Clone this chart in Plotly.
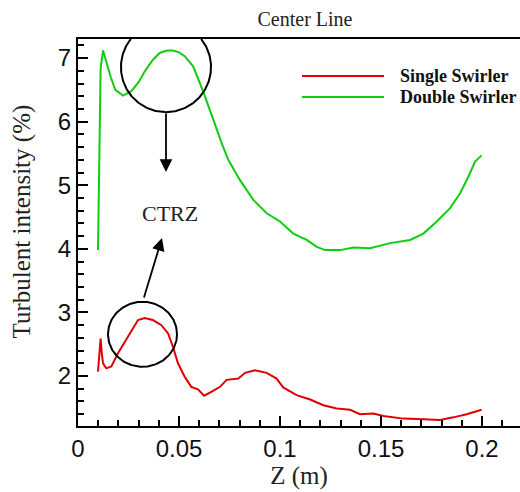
import numpy as np
import plotly.graph_objects as go

# ---- data ----
z_double = [0.0099, 0.0103, 0.0107, 0.0112, 0.0124, 0.0140, 0.0163, 0.0185, 0.0223, 0.0264,
            0.0300, 0.0330, 0.0370, 0.0404, 0.0440, 0.0470, 0.0500, 0.0528, 0.0570, 0.0619,
            0.0650, 0.0687, 0.0715, 0.0744, 0.0802, 0.0868, 0.0934, 0.1000, 0.1066, 0.1132, 0.1182,
            0.1223, 0.1297, 0.1363, 0.1446, 0.1545, 0.1644, 0.1710, 0.1776, 0.1842, 0.1891,
            0.1932, 0.1965, 0.1998]
ti_double = [3.98, 4.90, 5.90, 6.84, 7.12, 6.95, 6.69, 6.50, 6.41, 6.48,
             6.62, 6.79, 6.97, 7.08, 7.12, 7.12, 7.09, 7.03, 6.87, 6.48,
             6.20, 5.90, 5.63, 5.40, 5.08, 4.77, 4.56, 4.43, 4.24, 4.14, 4.03,
             3.98, 3.98, 4.02, 4.01, 4.09, 4.14, 4.24, 4.43, 4.64, 4.87,
             5.13, 5.37, 5.47]

z_single = [0.0099, 0.0106, 0.0112, 0.0118, 0.0124, 0.0140, 0.0165, 0.0198, 0.0248, 0.0297,
            0.0330, 0.0371, 0.0413, 0.0446, 0.0470, 0.0495, 0.0528, 0.0561, 0.0594, 0.0624,
            0.0660, 0.0703, 0.0736, 0.0794, 0.0827, 0.0876, 0.0934, 0.0983, 0.1016, 0.1082,
            0.1149, 0.1215, 0.1281, 0.1347, 0.1396, 0.1462, 0.1512, 0.1611, 0.1710, 0.1792,
            0.1858, 0.1924, 0.1998]
ti_single = [2.07, 2.35, 2.59, 2.35, 2.20, 2.12, 2.15, 2.36, 2.62, 2.88,
             2.91, 2.88, 2.80, 2.67, 2.46, 2.20, 1.99, 1.83, 1.79, 1.69,
             1.75, 1.83, 1.94, 1.96, 2.05, 2.09, 2.05, 1.96, 1.82, 1.70,
             1.63, 1.54, 1.49, 1.47, 1.40, 1.41, 1.37, 1.33, 1.32, 1.31,
             1.35, 1.40, 1.47]

series_names = ["Single Swirler", "Double Swirler"]
series_colors = ["#e00000", "#11cc11"]
x_ticks = [0, 0.05, 0.1, 0.15, 0.2]
x_tick_text = ["0", "0.05", "0.1", "0.15", "0.2"]
y_ticks = [2, 3, 4, 5, 6, 7]
x_range = [0, 442 / 2020]
y_range = [1.214, 7.30]

# annotation circles (centre z, centre value, radius z, radius value)
ctrz_circles = [(0.04356, 6.858, 0.0223, 0.708), (0.03193, 2.657, 0.01708, 0.511)]

TICK_FONT = "Liberation Sans, Arial, sans-serif"
SERIF = "Liberation Serif, Times New Roman, serif"

fig = go.Figure()
fig.add_trace(go.Scatter(x=z_single, y=ti_single, mode="lines", name=series_names[0],
                         line=dict(color=series_colors[0], width=2), showlegend=False))
fig.add_trace(go.Scatter(x=z_double, y=ti_double, mode="lines", name=series_names[1],
                         line=dict(color=series_colors[1], width=2), showlegend=False))

# circles marking CTRZ regions, cut where they leave the top of the frame
for cx, cy, rx, ry in ctrz_circles:
    if cy + ry > y_range[1]:
        t0 = np.arcsin((y_range[1] - cy) / ry)
        t = np.linspace(np.pi - t0, 2 * np.pi + t0, 181)
    else:
        t = np.linspace(0, 2 * np.pi, 181)
    fig.add_trace(go.Scatter(x=cx + rx * np.cos(t), y=cy + ry * np.sin(t), mode="lines",
                             line=dict(color="black", width=2), showlegend=False,
                             hoverinfo="skip"))

# arrows
fig.add_annotation(x=0.04356, y=5.21, ax=0.04356, ay=6.151, xref="x", yref="y",
                   axref="x", ayref="y", text="", showarrow=True, arrowhead=2,
                   arrowsize=1.4, arrowwidth=1.8, arrowcolor="black", standoff=0, startstandoff=0)
fig.add_annotation(x=0.04158, y=4.17, ax=0.03243, ay=3.211, xref="x", yref="y",
                   axref="x", ayref="y", text="", showarrow=True, arrowhead=2,
                   arrowsize=1.4, arrowwidth=1.8, arrowcolor="black", standoff=0, startstandoff=0)
fig.add_annotation(x=0.04554, y=4.563, xref="x", yref="y", text="CTRZ", showarrow=False,
                   font=dict(family=SERIF, size=22, color="#222"))

# manual legend
for i, (nm, col) in enumerate(zip(series_names, series_colors)):
    py = 76 + 21 * i
    yp = (426 - py) / 387
    fig.add_shape(type="line", xref="paper", yref="paper", x0=(302 - 78) / 442, x1=(384 - 78) / 442,
                  y0=yp, y1=yp, line=dict(color=col, width=2))
    fig.add_annotation(xref="paper", yref="paper", x=(398 - 78) / 442, y=yp, xanchor="left",
                       yanchor="middle", text="<b>" + nm + "</b>", showarrow=False,
                       font=dict(family=SERIF, size=18, color="#111"))

# y title
fig.add_annotation(xref="paper", yref="paper", x=(21.5 - 78) / 442, y=(426 - 222) / 387,
                   text="Turbulent intensity (%)", textangle=-90, showarrow=False,
                   xanchor="center", yanchor="middle", font=dict(family=SERIF, size=25, color="#222"))

fig.update_layout(
    width=520, height=492,
    margin=dict(l=78, r=0, t=39, b=66),
    paper_bgcolor="white", plot_bgcolor="white",
    title=dict(text="Center Line", x=(305 - 78) / 442, xref="paper", xanchor="center",
               y=1 - 19 / 492, yanchor="middle", yref="container",
               font=dict(family=SERIF, size=20, color="#222")),
    xaxis=dict(range=x_range, tickvals=x_ticks, ticktext=x_tick_text,
               ticks="inside", ticklen=10, tickwidth=2, tickcolor="black",
               showline=True, linecolor="black", linewidth=2, mirror=True,
               showgrid=False, zeroline=False,
               tickfont=dict(family=TICK_FONT, size=24, color="#111"),
               ticklabelstandoff=0,
               minor=dict(dtick=0.01, ticks="inside", ticklen=6, tickwidth=1.5, tickcolor="black",
                          showgrid=False),
               title=dict(text="Z (m)", font=dict(family=SERIF, size=25, color="#222"), standoff=2)),
    yaxis=dict(range=y_range, tickvals=y_ticks,
               ticks="inside", ticklen=10, tickwidth=2, tickcolor="black",
               showline=True, linecolor="black", linewidth=2, mirror=False,
               showgrid=False, zeroline=False,
               tickfont=dict(family=TICK_FONT, size=24, color="#111"),
               ticklabelstandoff=0,
               minor=dict(dtick=0.2, tick0=0, ticks="inside", ticklen=6, tickwidth=1.5, tickcolor="black",
                          showgrid=False)),
)

fig.write_html("out.html")
